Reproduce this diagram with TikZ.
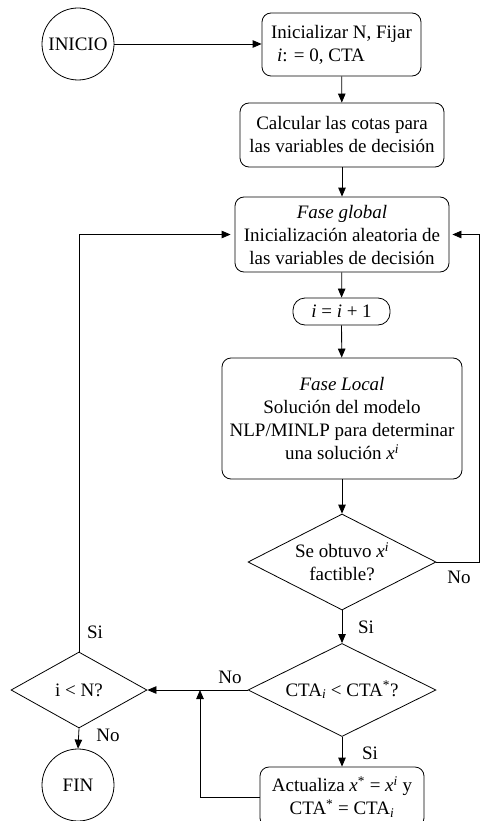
\documentclass[tikz,border=0pt]{standalone}
\usepackage{fontspec}
\setmainfont{Liberation Serif}
\usetikzlibrary{shapes.geometric,arrows.meta}
\begin{document}
\begin{tikzpicture}[x=1pt,y=1pt,
  every node/.style={font=\fontsize{19}{23}\selectfont, inner sep=0pt},
  box/.style={draw, line width=0.8pt, rounded corners=9pt, align=center},
  dia/.style={draw, line width=0.8pt, diamond},
  term/.style={draw, line width=0.8pt, circle, minimum size=72pt},
  arr/.style={line width=0.8pt, -{Triangle[length=9pt,width=7.5pt]}},
  ln/.style={line width=0.8pt},
  lab/.style={font=\fontsize{19}{23}\selectfont}
]
\useasboundingbox (0,0) rectangle (480,-821);
\clip (0,0) rectangle (480,-821);

% nodes
\node[term] (inicio) at (78,-44) {INICIO};
\node[box, align=left, minimum width=159pt, minimum height=63pt] (b1) at (341.5,-44.5)
  {Inicializar N, Fijar\\\hspace{6pt}\textit{i}: = 0, CTA};
\node[box, minimum width=204pt, minimum height=64pt] (b2) at (342,-135)
  {Calcular las cotas para\\las variables de decisión};
\node[box, minimum width=214pt, minimum height=75pt] (b3) at (342,-234.5)
  {\textit{Fase global}\\Inicialización aleatoria de\\las variables de decisión};
\node[box, rounded corners=12pt, minimum width=97pt, minimum height=27pt] (b4) at (341.5,-311.5)
  {\textit{i} = \textit{i} + 1};
\node[box, minimum width=240pt, minimum height=121pt] (b5) at (342,-418.5)
  {\textit{Fase Local}\\Solución del modelo\\NLP/MINLP para determinar\\una solución \textit{x}\textsuperscript{\textit{i}}};

\node[dia, minimum width=188pt, minimum height=96pt] (d1) at (342,-562) {};
\node (t1) at (d1) [align=center] {Se obtuvo \textit{x}\textsuperscript{\textit{i}}\\factible?};

\node[dia, minimum width=188pt, minimum height=93pt] (d2) at (342,-690) {};
\node (t2) at (d2) {CTA\textsubscript{\textit{i}} < CTA\textsuperscript{*}?};

\node[dia, minimum width=136pt, minimum height=76pt] (d3) at (79,-690) {};
\node (t3) at (d3) {i < N?};

\node[box, minimum width=164pt, minimum height=60pt] (b6) at (342,-797)
  {Actualiza \textit{x}\textsuperscript{*} = \textit{x}\textsuperscript{\textit{i}} y\\CTA\textsuperscript{*} = CTA\textsubscript{\textit{i}}};

\node[term] (fin) at (78,-785) {FIN};

\coordinate (j) at (200,-690);

% connectors
\draw[arr] (inicio) -- (b1.west |- inicio.east);
\draw[arr] (b1) -- (b2);
\draw[arr] (b2) -- (b3);
\draw[arr] (b3) -- (b4);
\draw[arr] (b4) -- (b5);
\draw[arr] (b5) -- (d1.north);
\draw[arr] (d1.south) -- (d2.north);
\draw[arr, shorten >=3pt] (d1.east) -- ++(43,0) |- (b3.east);
\draw[arr] (d2.west) -- (d3.east);
\draw[arr] (b6.west) -| (j);
\draw[arr] (d2.south) -- (b6.north);
\draw[arr, shorten >=4pt] (d3.north) |- (b3.west);
\draw[arr] (d3.south) -- (fin.north);

% labels
\node[lab] (l1) at (459,-577) {No};
\node[lab] (l2) at (366,-627) {Si};
\node[lab] (l3) at (230,-677) {No};
\node[lab] (l4) at (370,-753) {Si};
\node[lab] (l5) at (95,-632) {Si};
\node[lab] (l6) at (108,-735) {No};
\end{tikzpicture}
\end{document}
